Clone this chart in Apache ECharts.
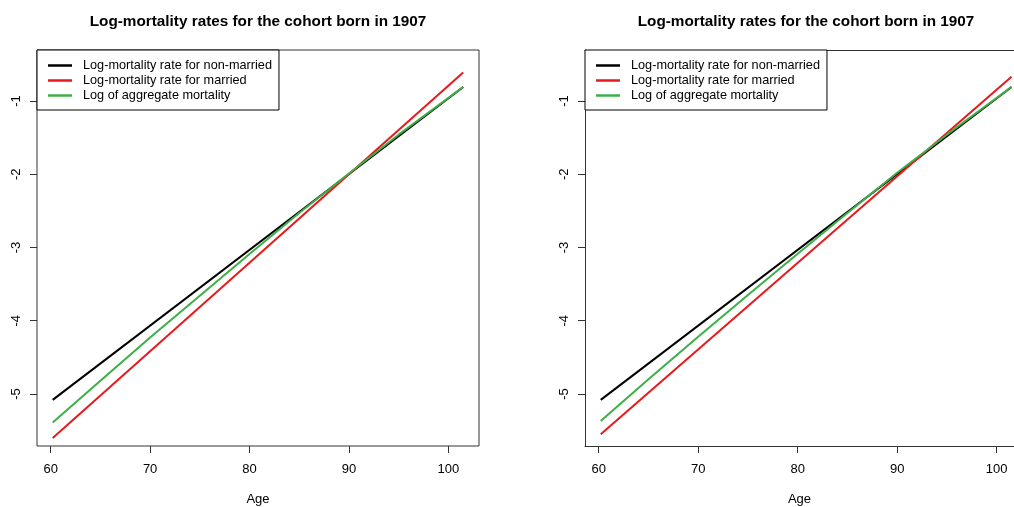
<!DOCTYPE html>
<html>
<head>
<meta charset="utf-8">
<script src="https://cdn.jsdelivr.net/npm/echarts@6/dist/echarts.min.js"></script>
<style>html,body{margin:0;padding:0;background:#fff}#c{width:1014px;height:507px}</style>
</head>
<body>
<div id="c"></div>
<script>
const titleText = 'Log-mortality rates for the cohort born in 1907';
const seriesNames = ['Log-mortality rate for non-married', 'Log-mortality rate for married', 'Log of aggregate mortality'];
const xTicks = [60, 70, 80, 90, 100];
const yTicks = [-5, -4, -3, -2, -1];

// Left panel
const agesLine = [60.2, 101.5];
const leftNonMarried = [-5.08, -0.81];
const leftMarried = [-5.60, -0.61];
const agesAgg = [60.2, 65, 70, 75, 80, 85, 90, 95, 101.5];
const leftAggregate = [-5.39, -4.82, -4.23, -3.66, -3.09, -2.53, -1.99, -1.46, -0.81];

// Right panel
const rightNonMarried = [-5.08, -0.81];
const rightMarried = [-5.55, -0.67];
const rightAggregate = [-5.37, -4.80, -4.22, -3.65, -3.085, -2.53, -1.98, -1.46, -0.81];

const colors = ['#000000', '#E8191C', '#3DAF48'];
const FONT = '"Liberation Sans", Arial, Helvetica, sans-serif';
const AX = '#333';

function pairs(xs, ys) { return xs.map((x, i) => [x, ys[i]]); }

function mkX(idx, max, showLine) {
  return {
    type: 'value', gridIndex: idx, min: 58.62, max: max,
    name: 'Age', nameLocation: 'middle', nameGap: 47,
    nameTextStyle: { fontFamily: FONT, fontSize: 13, color: '#000' },
    axisLine: { show: showLine, onZero: false, lineStyle: { color: AX, width: 1 } },
    splitLine: { show: false },
    axisTick: { show: true, length: 7, lineStyle: { color: AX }, customValues: xTicks },
    axisLabel: { fontFamily: FONT, fontSize: 13, color: '#000', margin: 17, customValues: xTicks }
  };
}
function mkTopX(idx, max) {
  return {
    type: 'value', gridIndex: idx, min: 58.62, max: max, position: 'top',
    axisLine: { show: true, onZero: false, lineStyle: { color: AX, width: 1 } },
    splitLine: { show: false }, axisTick: { show: false }, axisLabel: { show: false }
  };
}
function mkY(idx, showLine) {
  return {
    type: 'value', gridIndex: idx, min: -5.71, max: -0.304,
    axisLine: { show: showLine, onZero: false, lineStyle: { color: AX, width: 1 } },
    splitLine: { show: false },
    axisTick: { show: true, length: 7, lineStyle: { color: AX }, customValues: yTicks },
    axisLabel: { fontFamily: FONT, fontSize: 13, color: '#000', margin: 14, rotate: 90, customValues: yTicks }
  };
}
function mkSeries(idx, nm, mar, agg) {
  const base = { type: 'line', xAxisIndex: idx, yAxisIndex: idx, symbol: 'none', showSymbol: false, silent: true, animation: false };
  return [
    Object.assign({}, base, { name: seriesNames[0], data: pairs(agesLine, nm), lineStyle: { color: colors[0], width: 2 }, itemStyle: { color: colors[0] } }),
    Object.assign({}, base, { name: seriesNames[1], data: pairs(agesLine, mar), lineStyle: { color: colors[1], width: 2 }, itemStyle: { color: colors[1] } }),
    Object.assign({}, base, { name: seriesNames[2], data: pairs(agesAgg, agg), lineStyle: { color: colors[2], width: 2 }, itemStyle: { color: colors[2] } })
  ];
}
function mkLegend(left) {
  return {
    left: left, top: 50, orient: 'vertical',
    data: seriesNames.map((n, i) => ({ name: n, icon: 'rect', itemStyle: { color: colors[i] } })),
    itemWidth: 24, itemHeight: 2.5, itemGap: 2,
    padding: [9, 7, 8, 11],
    borderColor: '#000', borderWidth: 1,
    backgroundColor: '#fff',
    textStyle: { fontFamily: FONT, fontSize: 12.7, color: '#000', padding: [0, 0, 0, 6], lineHeight: 13 },
    selectedMode: false
  };
}

const chart = echarts.init(document.getElementById('c'), null, { renderer: 'canvas' });
chart.setOption({
  animation: false,
  backgroundColor: '#fff',
  title: [
    { text: titleText, left: 253, top: 9, textAlign: 'center', textStyle: { fontFamily: FONT, fontSize: 15.3, fontWeight: 'bold', color: '#000' } },
    { text: titleText, left: 801, top: 9, textAlign: 'center', textStyle: { fontFamily: FONT, fontSize: 15.3, fontWeight: 'bold', color: '#000' } }
  ],
  grid: [
    { left: 37, right: 535, top: 50, bottom: 61, show: true, borderColor: AX, borderWidth: 1, backgroundColor: 'transparent', containLabel: false, outerBoundsMode: 'none' },
    { left: 585, right: 0, top: 50, bottom: 61, show: false, containLabel: false, outerBoundsMode: 'none' }
  ],
  xAxis: [mkX(0, 103.09, false), mkX(1, 101.75, true), mkTopX(1, 101.75)],
  yAxis: [mkY(0, false), mkY(1, true)],
  legend: [mkLegend(37), mkLegend(585)],
  series: [].concat(
    mkSeries(0, leftNonMarried, leftMarried, leftAggregate),
    mkSeries(1, rightNonMarried, rightMarried, rightAggregate)
  )
});
</script>
</body>
</html>
